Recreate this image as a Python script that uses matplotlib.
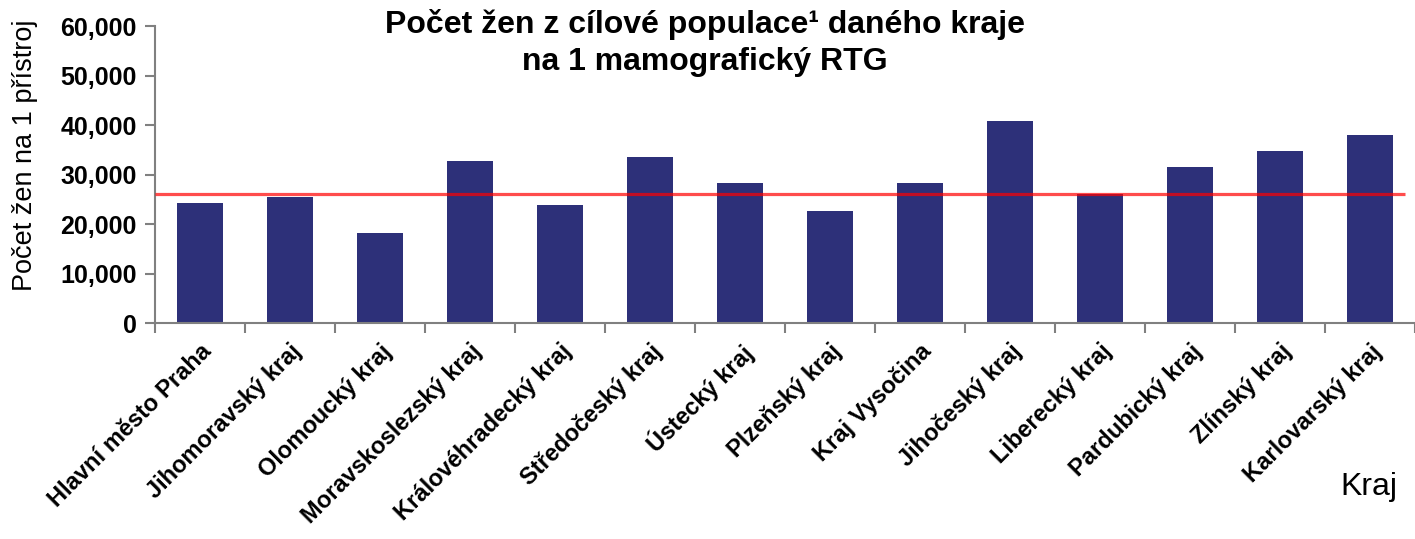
import numpy as np
import matplotlib
matplotlib.use("Agg")
import matplotlib.pyplot as plt
from matplotlib.ticker import StrMethodFormatter, FixedLocator

plt.rcParams['font.family'] = ['Liberation Sans', 'DejaVu Sans']

kraje = ["Hlavní město Praha", "Jihomoravský kraj", "Olomoucký kraj",
         "Moravskoslezský kraj", "Královéhradecký kraj", "Středočeský kraj",
         "Ústecký kraj", "Plzeňský kraj", "Kraj Vysočina", "Jihočeský kraj",
         "Liberecký kraj", "Pardubický kraj", "Zlínský kraj", "Karlovarský kraj"]
pocet_zen = [24300, 25500, 18200, 32750, 23900, 33550, 28300,
             22650, 28300, 40850, 26050, 31550, 34750, 38050]
prumer = 26150

fig = plt.figure(figsize=(14.15, 5.39), dpi=100)
ax = fig.add_axes([155/1415, 1 - 323.3/539, 1 - 155/1415, (323.3 - 26)/539])

x = np.arange(len(kraje))
ax.bar(x, pocet_zen, width=0.51, color="#2D3079", zorder=2)
ax.hlines(prumer, -0.5, 13.39, color="red", alpha=0.7, linewidth=2.3, zorder=3)

ax.set_xlim(-0.5, 13.5)
ax.set_ylim(0, 60000)
ax.set_yticks(np.arange(0, 60001, 10000))
ax.yaxis.set_major_formatter(StrMethodFormatter("{x:,.0f}"))

# popisky pod sloupci, carky na hranicich kategorii
ax.set_xticks(x)
ax.set_xticklabels(kraje, rotation=45, ha="right", va="top",
                   rotation_mode="anchor", fontsize=17, fontweight="bold")
ax.xaxis.set_minor_locator(FixedLocator(np.arange(-0.5, 13.6, 1)))
ax.tick_params(axis="x", which="major", length=0, pad=12)
ax.tick_params(axis="x", which="minor", length=7, width=1.5, color="#808080")
ax.tick_params(axis="y", length=7, width=1.5, color="#808080", labelsize=18, pad=6)
for lab in ax.get_yticklabels():
    lab.set_fontweight("bold")

for s in ["top", "right"]:
    ax.spines[s].set_visible(False)
for s in ["left", "bottom"]:
    ax.spines[s].set_color("#808080")
    ax.spines[s].set_linewidth(1.5)

fig.text(25/1415, 1 - 155/539, "Počet žen na 1 přístroj", rotation=90,
         ha="center", va="center", fontsize=19.5)
fig.text(1397/1415, 1 - 487/539, "Kraj", ha="right", va="center", fontsize=23)
fig.text(705/1415, 1 - 9/539, "Počet žen z cílové populace¹ daného kraje\nna 1 mamografický RTG",
         ha="center", va="top", fontsize=23, fontweight="bold", linespacing=1.3)

fig.savefig("out.png", dpi=100)
